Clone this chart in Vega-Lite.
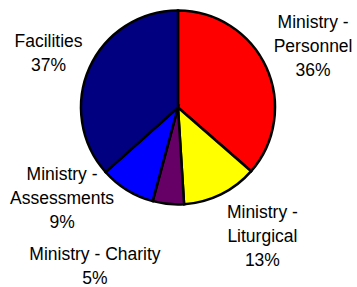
{
  "$schema": "https://vega.github.io/schema/vega-lite/v6.json",
  "width": 356,
  "height": 215,
  "padding": 0,
  "background": "white",
  "config": {"view": {"stroke": null}},
  "data": {
    "values": [
      {"k": 1, "cat": "Ministry - Personnel", "value": 36.4, "label": "Ministry -\nPersonnel\n36%"},
      {"k": 2, "cat": "Ministry - Liturgical", "value": 12.6, "label": "Ministry -\nLiturgical\n13%"},
      {"k": 3, "cat": "Ministry - Charity", "value": 5.2, "label": "Ministry - Charity\n5%"},
      {"k": 4, "cat": "Ministry - Assessments", "value": 9.2, "label": "Ministry -\nAssessments\n9%"},
      {"k": 5, "cat": "Facilities", "value": 36.6, "label": "Facilities\n37%"}
    ]
  },
  "transform": [
    {"stack": "value", "groupby": [], "sort": [{"field": "k", "order": "ascending"}], "as": ["v0", "v1"]}
  ],
  "encoding": {
    "theta": {"field": "v0", "type": "quantitative", "stack": null, "scale": {"domain": [0, 100]}}
  },
  "layer": [
    {
      "mark": {"type": "arc", "outerRadius": 97, "stroke": "black", "strokeWidth": 2.5},
      "encoding": {
        "theta2": {"field": "v1"},
        "color": {
          "field": "cat", "type": "nominal", "legend": null,
          "scale": {
            "domain": ["Ministry - Personnel", "Ministry - Liturgical", "Ministry - Charity", "Ministry - Assessments", "Facilities"],
            "range": ["#FF0000", "#FFFF00", "#660066", "#0000FF", "#000080"]
          }
        }
      }
    },
    {
      "transform": [{"filter": "datum.k === 1"}],
      "mark": {"type": "text", "radius": 148, "thetaOffset": 1.150, "dy": -24, "font": "Liberation Sans", "fontSize": 17.5, "lineHeight": 24, "lineBreak": "\n", "align": "center", "baseline": "middle", "color": "black"},
      "encoding": {"text": {"field": "label"}}
    },
    {
      "transform": [{"filter": "datum.k === 2"}],
      "mark": {"type": "text", "radius": 154.6, "thetaOffset": 0.277, "dy": -24, "font": "Liberation Sans", "fontSize": 17.5, "lineHeight": 24, "lineBreak": "\n", "align": "center", "baseline": "middle", "color": "black"},
      "encoding": {"text": {"field": "label"}}
    },
    {
      "transform": [{"filter": "datum.k === 3"}],
      "mark": {"type": "text", "radius": 179.8, "thetaOffset": 0.543, "dy": -12, "font": "Liberation Sans", "fontSize": 17.5, "lineHeight": 24, "lineBreak": "\n", "align": "center", "baseline": "middle", "color": "black"},
      "encoding": {"text": {"field": "label"}}
    },
    {
      "transform": [{"filter": "datum.k === 4"}],
      "mark": {"type": "text", "radius": 147.7, "thetaOffset": 0.639, "dy": -24, "font": "Liberation Sans", "fontSize": 17.5, "lineHeight": 24, "lineBreak": "\n", "align": "center", "baseline": "middle", "color": "black"},
      "encoding": {"text": {"field": "label"}}
    },
    {
      "transform": [{"filter": "datum.k === 5"}],
      "mark": {"type": "text", "radius": 140.1, "thetaOffset": 1.121, "dy": -12, "font": "Liberation Sans", "fontSize": 17.5, "lineHeight": 24, "lineBreak": "\n", "align": "center", "baseline": "middle", "color": "black"},
      "encoding": {"text": {"field": "label"}}
    }
  ]
}
